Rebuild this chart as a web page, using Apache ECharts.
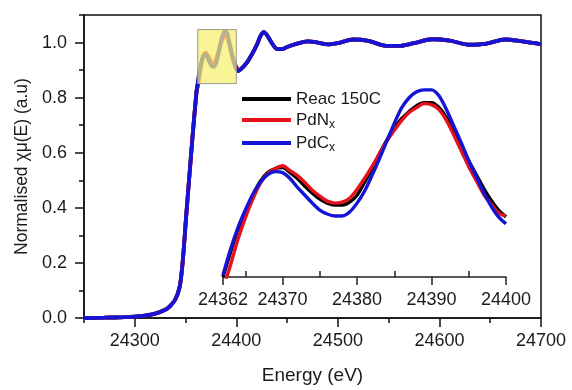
<!DOCTYPE html>
<html><head><meta charset="utf-8">
<script src="https://cdn.jsdelivr.net/npm/echarts@6/dist/echarts.min.js"></script>
<style>html,body{margin:0;padding:0;background:#fff}#c{width:572px;height:390px}</style>
</head><body><div id="c"></div>
<script>
// ---- data ----
const seriesNames = ['Reac 150C', 'PdNx', 'PdCx'];
// pre-edge and edge rise (shared by all three spectra)
const preE = [24250, 24270, 24290, 24300, 24310, 24320, 24330, 24335, 24340, 24344, 24346, 24348, 24350, 24352, 24354, 24356, 24358, 24360, 24361];
const preV = [0.000, 0.001, 0.003, 0.005, 0.009, 0.016, 0.030, 0.044, 0.068, 0.110, 0.160, 0.240, 0.340, 0.435, 0.527, 0.618, 0.708, 0.790, 0.828];
// XANES region (inset, 24362-24400 eV)
const insetE = [24362, 24363, 24364, 24365, 24366, 24367, 24368, 24369, 24370, 24371, 24372, 24373, 24374, 24375, 24376, 24377, 24378, 24379, 24380, 24381, 24382, 24383, 24384, 24385, 24386, 24387, 24388, 24389, 24390, 24391, 24392, 24393, 24394, 24395, 24396, 24397, 24398, 24399, 24400];
const reacV = [0.850, 0.875, 0.898, 0.916, 0.933, 0.947, 0.956, 0.960, 0.961, 0.956, 0.950, 0.942, 0.935, 0.929, 0.925, 0.923, 0.923, 0.926, 0.933, 0.946, 0.960, 0.975, 0.989, 1.001, 1.011, 1.018, 1.024, 1.027, 1.027, 1.022, 1.012, 0.998, 0.984, 0.968, 0.954, 0.940, 0.928, 0.918, 0.911];
const pdnV  = [0.838, 0.862, 0.888, 0.910, 0.929, 0.945, 0.955, 0.960, 0.963, 0.958, 0.953, 0.946, 0.938, 0.932, 0.927, 0.925, 0.926, 0.930, 0.939, 0.950, 0.962, 0.975, 0.988, 0.999, 1.009, 1.017, 1.022, 1.026, 1.025, 1.020, 1.009, 0.994, 0.978, 0.962, 0.948, 0.934, 0.924, 0.915, 0.912];
const pdcV  = [0.852, 0.878, 0.900, 0.918, 0.934, 0.946, 0.954, 0.957, 0.956, 0.950, 0.941, 0.933, 0.925, 0.918, 0.914, 0.912, 0.912, 0.916, 0.925, 0.937, 0.953, 0.970, 0.988, 1.006, 1.022, 1.032, 1.038, 1.040, 1.040, 1.034, 1.020, 1.003, 0.986, 0.968, 0.952, 0.936, 0.922, 0.911, 0.904];
// EXAFS oscillations after the edge (shared)
const postE = [24402, 24405, 24410, 24415, 24420, 24424, 24427, 24430, 24435, 24440, 24445, 24450, 24460, 24470, 24480, 24490, 24500, 24515, 24530, 24548, 24560, 24575, 24593, 24610, 24630, 24645, 24665, 24680, 24700];
const postV = [0.897, 0.905, 0.925, 0.955, 0.990, 1.025, 1.038, 1.028, 0.998, 0.977, 0.976, 0.984, 0.996, 1.004, 1.000, 0.993, 0.998, 1.011, 1.006, 0.988, 0.988, 0.998, 1.012, 1.007, 0.992, 0.995, 1.011, 1.005, 0.994];
// highlighted box (energy range, normalised range)
const boxE = [24362, 24400];
const boxV = [0.851, 1.047];
// tick labels
const xMainLabels = [24300, 24400, 24500, 24600, 24700];
const yMainLabels = [0.0, 0.2, 0.4, 0.6, 0.8, 1.0];
const xInsetLabels = [24362, 24370, 24380, 24390, 24400];
const xInsetMinor = [24365, 24375, 24385, 24395];

const colors = ['#000000', '#e8101a', '#1414d6'];
const insetVals = [reacV, pdnV, pdcV];

function pairs(xs, ys) { return xs.map((x, i) => [x, ys[i]]); }
function fullSpectrum(v) {
  return pairs(preE, preV).concat(pairs(insetE, v)).concat(pairs(postE, postV));
}

const font = 'Liberation Sans';
const txt = '#1a1a1a';

const series = [];
seriesNames.forEach((n, i) => {
  series.push({
    name: n, type: 'line', xAxisIndex: 0, yAxisIndex: 0,
    data: fullSpectrum(insetVals[i]), showSymbol: false, symbol: 'none',
    smooth: 0.3, lineStyle: { color: colors[i], width: 3.8 }, itemStyle: { color: colors[i] },
    z: 2 + i, animation: false
  });
});
series.push({
  type: 'line', xAxisIndex: 0, yAxisIndex: 0, data: [], z: 10, animation: false,
  markArea: {
    silent: true, z: 20,
    itemStyle: { color: 'rgba(247,240,110,0.72)', borderColor: '#9a9a8a', borderWidth: 1 },
    data: [[{ coord: [boxE[0], boxV[0]] }, { coord: [boxE[1], boxV[1]] }]]
  }
});
seriesNames.forEach((n, i) => {
  series.push({
    name: n, type: 'line', xAxisIndex: 2, yAxisIndex: 2,
    data: pairs(insetE, insetVals[i]), showSymbol: false, symbol: 'none',
    smooth: 0.3, clip: true, lineStyle: { color: colors[i], width: 3.4 }, itemStyle: { color: colors[i] },
    z: 2 + i, animation: false
  });
});

const option = {
  animation: false,
  backgroundColor: '#ffffff',
  textStyle: { fontFamily: font },
  grid: [
    { left: 84, right: 31, top: 15, bottom: 67, show: true, borderColor: '#111', borderWidth: 1.5, backgroundColor: 'transparent' },
    { left: 223, right: 66, top: 80, bottom: 113 }
  ],
  legend: {
    orient: 'vertical', left: 237, top: 85,
    data: seriesNames.map((n, i) => ({ name: n, icon: 'rect', itemStyle: { color: colors[i] } })),
    itemWidth: 49, itemHeight: 4, itemGap: 1,
    textStyle: {
      fontFamily: font, fontSize: 17, color: txt, lineHeight: 18,
      rich: { sub: { fontFamily: font, fontSize: 12, color: txt, lineHeight: 22, verticalAlign: 'bottom' } }
    },
    formatter: function (name) {
      if (name === 'PdNx') return 'PdN{sub|x}';
      if (name === 'PdCx') return 'PdC{sub|x}';
      return name;
    }
  },
  xAxis: [
    {
      type: 'value', gridIndex: 0, min: 24250, max: 24700,
      name: 'Energy (eV)', nameLocation: 'middle', nameGap: 48,
      nameTextStyle: { fontFamily: font, fontSize: 19, color: txt },
      axisLine: { lineStyle: { color: '#111', width: 1.5 } },
      axisTick: { show: true, inside: false, length: 9, customValues: xMainLabels, lineStyle: { color: '#111', width: 1.5 } },
      axisLabel: { customValues: xMainLabels, fontFamily: font, fontSize: 18, color: txt, margin: 14, formatter: v => String(v) },
      splitLine: { show: false }
    },
    {
      type: 'value', gridIndex: 0, min: 24250, max: 24700, interval: 50, position: 'bottom',
      axisLine: { show: false }, axisLabel: { show: false }, splitLine: { show: false },
      axisTick: { show: true, length: 5, lineStyle: { color: '#111', width: 1.5 } }
    },
    {
      type: 'value', gridIndex: 1, min: 24362, max: 24400, position: 'bottom',
      axisLine: { lineStyle: { color: '#222', width: 1.5 } },
      axisTick: { show: true, inside: false, length: 8, customValues: xInsetLabels, lineStyle: { color: '#222', width: 1.5 } },
      axisLabel: { customValues: xInsetLabels, fontFamily: font, fontSize: 18, color: txt, margin: 14, formatter: v => String(v) },
      splitLine: { show: false }
    },
    {
      type: 'value', gridIndex: 1, min: 24362, max: 24400, position: 'bottom',
      axisLine: { show: false }, axisLabel: { show: false }, splitLine: { show: false },
      axisTick: { show: true, inside: true, length: 6, customValues: xInsetMinor, lineStyle: { color: '#222', width: 1.5 } }
    }
  ],
  yAxis: [
    {
      type: 'value', gridIndex: 0, min: 0, max: 1.1, interval: 0.2,
      name: 'Normalised χμ(E) (a.u)', nameLocation: 'middle', nameGap: 52,
      nameTextStyle: { fontFamily: font, fontSize: 17.5, color: txt },
      axisLine: { show: true, lineStyle: { color: '#111', width: 1.5 } },
      axisTick: { show: true, length: 9, customValues: yMainLabels, lineStyle: { color: '#111', width: 1.5 } },
      axisLabel: { customValues: yMainLabels, fontFamily: font, fontSize: 18, color: txt, margin: 17, formatter: v => v.toFixed(1) },
      splitLine: { show: false }
    },
    {
      type: 'value', gridIndex: 0, min: 0, max: 1.1, interval: 0.1, position: 'left',
      axisLine: { show: false }, axisLabel: { show: false }, splitLine: { show: false },
      axisTick: { show: true, length: 5, lineStyle: { color: '#111', width: 1.5 } }
    },
    {
      type: 'value', gridIndex: 1, min: 0.85, max: 1.05, show: false
    }
  ],
  series: series
};

const chart = echarts.init(document.getElementById('c'), null, { renderer: 'canvas' });
chart.setOption(option);
</script>
</body></html>
